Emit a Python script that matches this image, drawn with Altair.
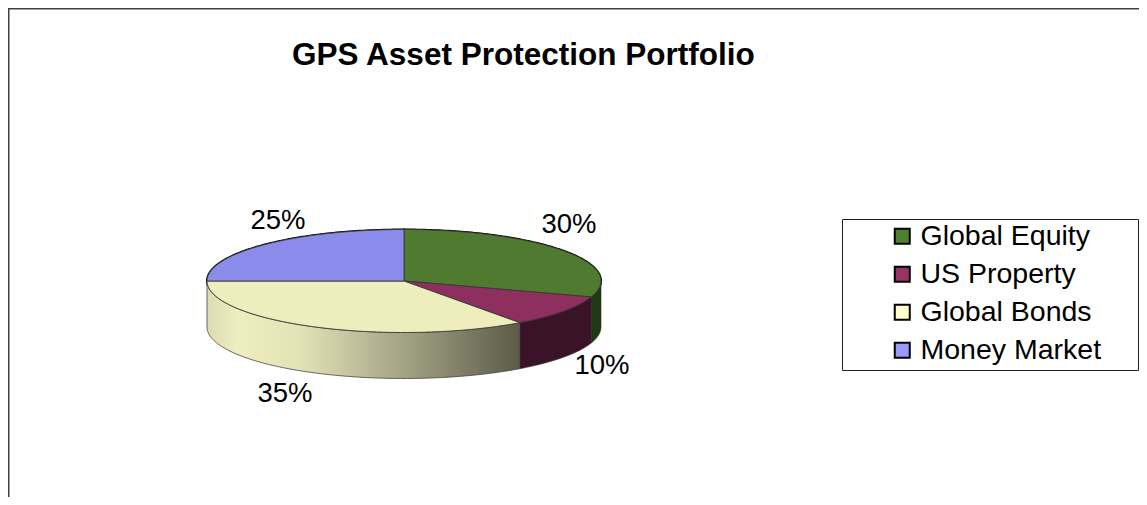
import math
import altair as alt

title_text = "GPS Asset Protection Portfolio"
names = ["Global Equity", "US Property", "Global Bonds", "Money Market"]
shares = [30, 10, 35, 25]
labels = ["30%", "10%", "35%", "25%"]
legend_colors = ["#4f8030", "#993366", "#ffffcc", "#9999ff"]
top_colors = ["#4f7a2f", "#8f2f5f", "#ededbd", "#8b8bec"]
wall_colors = ["#1f3a12", "#3b1328", "#ededbd", "#8b8bec"]

FONT = "Liberation Sans"
W, H = 1131, 489
OFF = 8
CX, CY, RX, RY, DEPTH = 404 - OFF, 281 - OFF, 197, 51.5, 46


def pt(deg, drop=0.0):
    t = math.radians(deg)
    return [CX + RX * math.sin(t), CY - RY * math.cos(t) + drop]


def sweep(a, b):
    n = max(2, int(abs(b - a)) + 1)
    return [a + (b - a) * i / (n - 1) for i in range(n)]


def feature(ring, **props):
    ring = ring + [ring[0]]
    return {"type": "Feature", "properties": props,
            "geometry": {"type": "Polygon", "coordinates": [ring]}}


tops, walls = [], []
start = 0.0
for name, share, top, wall in zip(names, shares, top_colors, wall_colors):
    end = start + share * 3.6
    tops.append(feature([[CX, CY]] + [pt(d) for d in sweep(start, end)],
                        name=name, hex=top))
    a, b = max(start, 90.0), min(end, 270.0)
    if a < b:
        arc = sweep(a, b)
        walls.append(feature([pt(d) for d in arc] + [pt(d, DEPTH) for d in reversed(arc)],
                             name=name, hex=wall))
    start = end


def geo(features):
    return alt.InlineData(values={"type": "FeatureCollection", "features": features},
                          format=alt.JsonDataFormat(property="features"))


proj = dict(type="identity", scale=1, translate=[0, 0])

under = alt.Chart(geo(tops)).mark_geoshape(stroke="black", strokeWidth=2).encode(
    color=alt.Color("properties.name:N",
                    scale=alt.Scale(domain=names, range=legend_colors),
                    legend=alt.Legend(orient="none", legendX=880, legendY=214, title=None,
                                      padding=0, symbolType="square", symbolSize=225,
                                      symbolStrokeWidth=2, symbolStrokeColor="black",
                                      labelFont=FONT, labelFontSize=28.5, labelColor="black",
                                      labelOffset=4, rowPadding=9, labelLimit=400))
).project(**proj)

solid_walls = alt.Chart(geo([w for w in walls if w["properties"]["name"] != "Global Bonds"])).mark_geoshape(
    stroke="#2a2a2a", strokeWidth=0.6
).encode(fill=alt.Fill("properties.hex:N", scale=None)).project(**proj)

bond_gradient = alt.LinearGradient(
    gradient="linear", x1=0, x2=1, y1=0, y2=0,
    stops=[alt.GradientStop(offset=0, color="#dcdcb2"),
           alt.GradientStop(offset=0.1, color="#eeeebf"),
           alt.GradientStop(offset=0.3, color="#e2e2b6"),
           alt.GradientStop(offset=0.6, color="#a8a88a"),
           alt.GradientStop(offset=1, color="#5c5c48")])
bond_wall = alt.Chart(geo([w for w in walls if w["properties"]["name"] == "Global Bonds"])).mark_geoshape(
    fill=bond_gradient, stroke="#444444", strokeWidth=0.8
).project(**proj)

top_layer = alt.Chart(geo(tops)).mark_geoshape(stroke="#3a3a3a", strokeWidth=0.9).encode(
    fill=alt.Fill("properties.hex:N", scale=None)
).project(**proj)

label_pos = {"30%": (569, 224.5), "10%": (602, 366), "35%": (285, 394), "25%": (278, 221)}
label_layers = [
    alt.Chart(alt.Data(values=[{"t": lab}])).mark_text(
        font=FONT, fontSize=27.5, color="black", align="center", baseline="middle"
    ).encode(text="t:N", x=alt.value(label_pos[lab][0] - OFF), y=alt.value(label_pos[lab][1] - OFF))
    for lab in labels
]

one = alt.Data(values=[{"k": 1}])
left_rule = alt.Chart(one).mark_rule(color="#404040", strokeWidth=1.5).encode(
    x=alt.value(0.75), y=alt.value(0), y2=alt.value(H))
top_rule = alt.Chart(one).mark_rule(color="#404040", strokeWidth=1.5).encode(
    y=alt.value(0.75), x=alt.value(0), x2=alt.value(W))
legend_box = alt.Chart(one).mark_rect(fill="white", stroke="#202020", strokeWidth=1).encode(
    x=alt.value(842.5 - OFF), x2=alt.value(1130.5),
    y=alt.value(219.5 - OFF), y2=alt.value(370.5 - OFF))

chart = alt.layer(
    left_rule, top_rule, legend_box, under, solid_walls, bond_wall, top_layer, *label_layers
).properties(
    width=W, height=H, padding=0, autosize=alt.AutoSizeParams(type="none"),
    title=alt.TitleParams(title_text, anchor="start", frame="group", font=FONT, fontSize=31.5,
                          fontWeight="bold", color="black", baseline="alphabetic",
                          dx=284, dy=89, offset=0)
).configure_view(stroke=None).configure(background="white")

chart.save("out.html", embed_options={"renderer": "svg", "actions": False})
